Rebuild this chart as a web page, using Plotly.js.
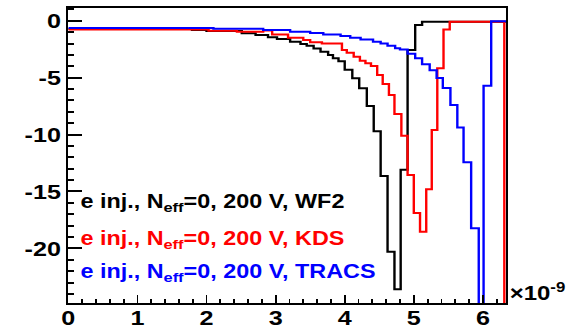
<!DOCTYPE html>
<html>
<head>
<meta charset="utf-8">
<script src="https://cdn.plot.ly/plotly-3.0.1.min.js"></script>
<style>
html, body { margin:0; padding:0; width:566px; height:331px; overflow:hidden; background:#fff; }
#plot { width:472px; height:331px; transform: scaleX(1.19915); transform-origin: 0 0; }
</style>
</head>
<body>
<div id="plot"></div>
<script>
// step-change positions (units of 1e-9) and values
const blackX = [0, 1.79, 2.0, 2.51, 2.71, 2.89, 3.02, 3.21, 3.36, 3.45, 3.55, 3.65, 3.76, 3.83, 3.91, 4.0, 4.11, 4.21, 4.32, 4.42, 4.52, 4.62, 4.72, 4.81, 4.91, 5.02, 5.12, 6.4];
const blackY = [-0.72, -0.82, -0.9, -1.1, -1.26, -1.45, -1.6, -1.85, -2.05, -2.2, -2.43, -2.72, -3.0, -3.3, -3.55, -4.3, -5.06, -5.94, -7.5, -9.72, -13.65, -20.3, -23.6, -13.1, -2.58, -0.38, -0.09, -0.09];

const redX = [0, 2.03, 2.44, 2.82, 2.95, 3.18, 3.40, 3.50, 3.67, 3.96, 4.03, 4.13, 4.22, 4.30, 4.38, 4.47, 4.55, 4.64, 4.72, 4.82, 4.91, 5.0, 5.09, 5.18, 5.26, 5.34, 5.43, 5.52, 6.31, 6.4];
const redY = [-0.76, -0.88, -0.97, -0.85, -1.2, -1.49, -1.7, -1.9, -2.0, -2.57, -2.81, -3.16, -3.51, -3.74, -3.98, -4.77, -5.56, -6.53, -8.2, -10.1, -13.56, -16.9, -18.54, -14.8, -9.6, -4.18, -0.76, -0.09, -30, -30];

const blueX = [0, 2.10, 2.82, 3.21, 3.50, 3.69, 3.94, 4.08, 4.23, 4.41, 4.52, 4.62, 4.73, 4.80, 4.91, 5.02, 5.12, 5.23, 5.33, 5.42, 5.53, 5.63, 5.72, 5.83, 5.94, 6.01, 6.12, 6.4];
const blueY = [-0.64, -0.71, -0.82, -0.97, -1.08, -1.2, -1.34, -1.49, -1.64, -1.85, -1.99, -2.2, -2.42, -2.53, -2.9, -3.3, -3.83, -4.36, -5.04, -5.91, -7.41, -9.38, -12.43, -18.24, -30, -5.71, -0.05, -0.05];

const yTickVals = [0, -5, -10, -15, -20];
const yTickText = ['0', '-5', '-10', '-15', '-20'];
const xTickVals = [0, 1, 2, 3, 4, 5, 6];
const xTickText = ['0', '1', '2', '3', '4', '5', '6'];

const legendLabels = [
  'e inj., N<sub>eff</sub>=0, 200 V, WF2',
  'e inj., N<sub>eff</sub>=0, 200 V, KDS',
  'e inj., N<sub>eff</sub>=0, 200 V, TRACS'
];
const legendColors = ['#000000', '#ff0000', '#0000ff'];
const legendY = [-15.95, -19.2, -22.15];
const xExponent = '×10<sup>-9</sup>';

const font = 'Liberation Sans, Arial, Helvetica, sans-serif';

function trace(x, y, color) {
  return { x: x, y: y, type: 'scatter', mode: 'lines',
           line: { shape: 'hv', color: color, width: 2 }, hoverinfo: 'skip' };
}

const data = [
  trace(blackX, blackY, legendColors[0]),
  trace(redX, redY, legendColors[1]),
  trace(blueX, blueY, legendColors[2])
];

const annotations = legendLabels.map((t, i) => ({
  text: t, x: 0.14, y: legendY[i], xref: 'x', yref: 'y',
  xanchor: 'left', yanchor: 'middle', showarrow: false,
  font: { family: font, size: 19.5, color: legendColors[i], weight: 'bold' }
}));
annotations.push({
  text: xExponent, x: 1.004, y: 0.04, xref: 'paper', yref: 'paper',
  xanchor: 'left', yanchor: 'middle', showarrow: false,
  font: { family: font, size: 20, color: '#000', weight: 'bold' }
});

const layout = {
  width: 472, height: 331,
  margin: { l: 57, r: 50, t: 8, b: 28, pad: 0 },
  paper_bgcolor: '#fff', plot_bgcolor: '#fff',
  showlegend: false,
  font: { family: font, size: 21, color: '#000', weight: 'bold' },
  xaxis: {
    range: [0, 6.335], showgrid: false, zeroline: false,
    showline: true, mirror: true, linecolor: '#000', linewidth: 2,
    ticks: 'inside', ticklen: 8, tickwidth: 1.5, tickcolor: '#000',
    tickmode: 'array', tickvals: xTickVals, ticktext: xTickText,
    ticklabelstandoff: -5,
    tickfont: { family: font, size: 21, color: '#000', weight: 'bold' },
    minor: { ticks: 'inside', ticklen: 4, tickwidth: 1.5, tickcolor: '#000', dtick: 0.2, tick0: 0, tickmode: 'linear' }
  },
  yaxis: {
    range: [-24.8, 1.12], showgrid: false, zeroline: false,
    showline: true, mirror: true, linecolor: '#000', linewidth: 2,
    ticks: 'inside', ticklen: 11, tickwidth: 2, tickcolor: '#000',
    tickmode: 'array', tickvals: yTickVals, ticktext: yTickText,
    tickfont: { family: font, size: 21, color: '#000', weight: 'bold' },
    minor: { ticks: 'inside', ticklen: 4.5, tickwidth: 2, tickcolor: '#000', dtick: 1, tick0: 0, tickmode: 'linear' }
  },
  annotations: annotations
};

Plotly.newPlot('plot', data, layout, { staticPlot: true, displayModeBar: false });
</script>
</body>
</html>
